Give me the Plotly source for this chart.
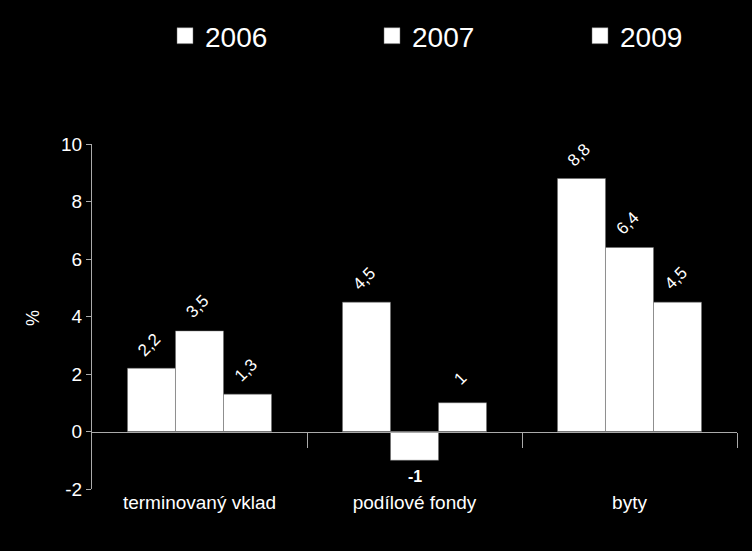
import plotly.graph_objects as go

categories = ["terminovaný vklad", "podílové fondy", "byty"]
years = ["2006", "2007", "2009"]
v2006 = [2.2, 4.5, 8.8]
v2007 = [3.5, -1, 6.4]
v2009 = [1.3, 1, 4.5]
series = [v2006, v2007, v2009]
y_ticks = [-2, 0, 2, 4, 6, 8, 10]

FONT = "Liberation Sans, Arial, sans-serif"
xpos = list(range(len(categories)))

L, R, T, B = 92, 15, 144, 62
W, H = 752, 551
PW, PH = W - L - R, H - T - B

def fmt(v):
    return ("%g" % v).replace(".", ",")

legend_names = ["legend", "legend2", "legend3"]
text_starts = [207, 414, 622]

fig = go.Figure()
for name, vals in zip(years, series):
    fig.add_trace(go.Bar(
        x=xpos, y=vals, name=name, showlegend=False,
        marker=dict(color="white", line=dict(color="#666666", width=0.5)),
        cliponaxis=False,
    ))

# legend entries with larger square swatches
for name, lg in zip(years, legend_names):
    fig.add_trace(go.Scatter(
        x=[None], y=[None], name=name, legend=lg, mode="markers",
        marker=dict(symbol="square", size=18, color="white",
                    line=dict(color="#666666", width=0.5)),
        hoverinfo="skip"))

bargap = 0.33
bw = (1 - bargap) / 3
offsets = [-1, 0, 1]
annotations = []
for si, vals in enumerate(series):
    for ci, v in enumerate(vals):
        xc = ci + offsets[si] * bw
        if v < 0:
            annotations.append(dict(
                x=xc, y=v, xref="x", yref="y",
                text="<b>%s</b>" % fmt(v), showarrow=False,
                xanchor="center", yanchor="middle", yshift=-16,
                font=dict(color="white", size=16, family=FONT)))
        else:
            annotations.append(dict(
                x=xc, y=v, xref="x", yref="y",
                text=fmt(v), showarrow=False, textangle=-45,
                xanchor="center", yanchor="middle", yshift=24, xshift=-2,
                font=dict(color="white", size=17, family=FONT)))
annotations.append(dict(
    x=(33 - L) / PW, y=(H - B - 318) / PH, xref="paper", yref="paper",
    text="%", showarrow=False, textangle=-90, xanchor="center", yanchor="middle",
    font=dict(color="white", size=18, family=FONT)))

# invisible trace to activate the zero-line x axis
fig.add_trace(go.Scatter(x=[0], y=[0], xaxis="x2", mode="markers",
                         marker=dict(opacity=0), showlegend=False, hoverinfo="skip"))

legends = {}
for lg, ts in zip(legend_names, text_starts):
    legends[lg] = dict(
        orientation="h", x=(ts - 42 - L) / PW, xanchor="left",
        y=(H - B - 36) / PH, yanchor="middle",
        font=dict(size=28, color="white", family=FONT),
        bgcolor="rgba(0,0,0,0)", itemsizing="trace")

fig.update_layout(
    width=W, height=H,
    paper_bgcolor="black", plot_bgcolor="black",
    margin=dict(l=L, r=R, t=T, b=B, autoexpand=False),
    barmode="group", bargap=bargap, bargroupgap=0,
    font=dict(family=FONT, color="white"),
    showlegend=True,
    xaxis=dict(range=[-0.5, 2.5], tickvals=xpos, ticktext=categories,
               showline=False, showgrid=False, zeroline=False, ticks="",
               tickfont=dict(size=19, color="white", family=FONT), ticklabelstandoff=0),
    xaxis2=dict(range=[-0.5, 2.5], overlaying="x", anchor="free",
                position=(0 - (-2)) / 12, tickvals=[0.5, 1.5, 2.5],
                showticklabels=False, ticks="outside", ticklen=15, tickcolor="#aaaaaa",
                tickwidth=1, showline=True, linecolor="#aaaaaa", linewidth=1,
                showgrid=False, zeroline=False, side="bottom"),
    yaxis=dict(range=[-2, 10], tickvals=y_ticks, ticktext=[str(t) for t in y_ticks],
               ticks="outside", ticklen=5,
               tickcolor="#aaaaaa", showline=True, linecolor="#aaaaaa", linewidth=1,
               showgrid=False, zeroline=False,
               tickfont=dict(size=19, color="white", family=FONT)),
    annotations=annotations,
    **legends,
)

fig.write_html("out.html")
